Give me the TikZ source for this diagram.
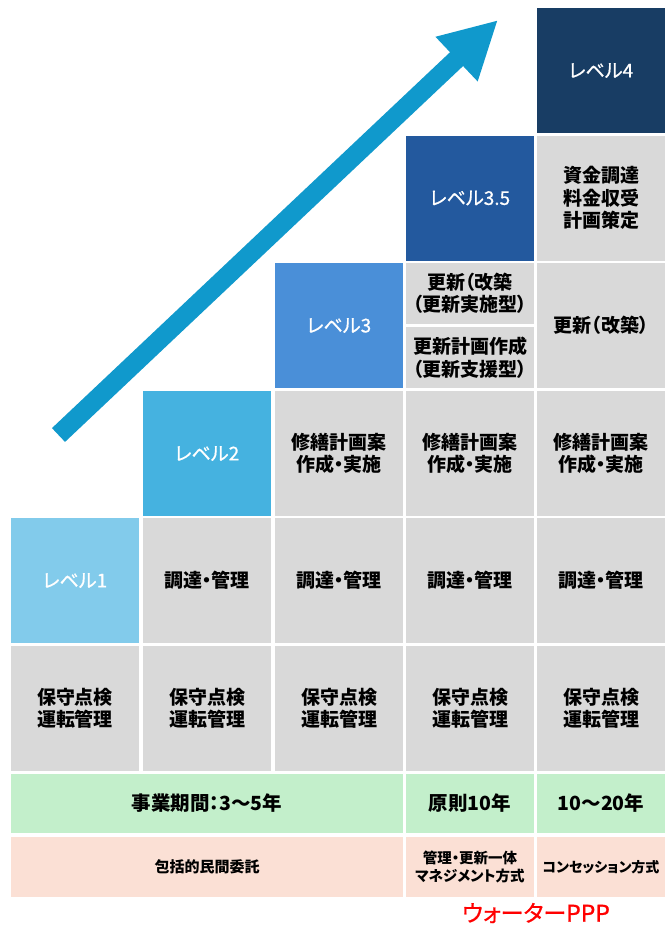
\documentclass[tikz,border=0pt]{standalone}
\usepackage{fontspec}
\setmainfont[RawFeature=+palt]{Noto Sans CJK JP}
\newfontfamily\medio[RawFeature=+palt, FakeBold=0.8]{Noto Sans CJK JP}
\usepackage{xcolor}
\usetikzlibrary{positioning, arrows.meta}
\definecolor{nivel1}{HTML}{82CBEB}
\definecolor{nivel2}{HTML}{45B2E0}
\definecolor{nivel3}{HTML}{4A8FD8}
\definecolor{nivel35}{HTML}{23599E}
\definecolor{nivel4}{HTML}{183D64}
\definecolor{grisfondo}{HTML}{D9D9D9}
\definecolor{verdefondo}{HTML}{C3EFCB}
\definecolor{rosafondo}{HTML}{FBE0D5}
\definecolor{flechaazul}{HTML}{1099CC}
\definecolor{rojo}{HTML}{FF0000}

\begin{document}
\begin{tikzpicture}[x=1pt,y=-1pt,
    celda/.style={inner sep=0pt, minimum width=128pt, minimum height=125pt, align=center,
        font=\bfseries\fontsize{19}{22.5}\selectfont},
    gris/.style={celda, fill=grisfondo},
    nivel/.style={celda, text=white, font=\medio\fontsize{19}{22}\selectfont},
    verde/.style={celda, fill=verdefondo, minimum height=59pt, font=\bfseries\fontsize{19.5}{22}\selectfont},
    rosa/.style={celda, fill=rosafondo, minimum height=60pt, font=\bfseries\fontsize{14.5}{18}\selectfont}]
        % Fondo y limites
        \fill[white] (0,0) rectangle (667,927);
        \useasboundingbox (0,0) rectangle (667,927);
        % Flecha
        \coordinate (flecha-ini) at (58.5,435);
        \coordinate (flecha-fin) at (498,20);
        \draw[flechaazul, line width=19pt, -{Triangle[length=57pt, width=57pt]}] (flecha-ini) -- (flecha-fin);
        % Niveles
        \node[nivel, fill=nivel1] (n1) at (75,580.5) {レベル1};
        \node[nivel, fill=nivel2] (n2) at (207,453.5) {レベル2};
        \node[nivel, fill=nivel3] (n3) at (339,325.5) {レベル3};
        \node[nivel, fill=nivel35] (n35) at (470,198) {レベル3.5};
        \node[nivel, fill=nivel4] (n4) at (601,70.5) {レベル4};
        % Celdas grises por fila
        \foreach \x [count=\i] in {75,207,339,470,601} {
            \node[gris] (hoshu\i) at (\x,708.5) {保守点検\\運転管理};
        }
        \foreach \x [count=\i from 2] in {207,339,470,601} {
            \node[gris] (chotatsu\i) at (\x,580.5) {調達・管理};
        }
        \foreach \x [count=\i from 3] in {339,470,601} {
            \node[gris] (shuzen\i) at (\x,453.5) {修繕計画案\\作成・実施};
        }
        \node[gris, minimum height=61pt] (koshin4a) at (470,293.5) {更新（改築\\（更新実施型）};
        \node[gris, minimum height=61pt] (koshin4b) at (470,357.5) {更新計画作成\\（更新支援型）};
        \node[gris] (koshin5) at (601,325.5) {更新（改築）};
        \node[gris] (shikin5) at (601,198) {資金調達\\料金収受\\計画策定};
        % Periodo del proyecto
        \node[verde, minimum width=392pt] (plazo) at (207,803.5) {事業期間：3～5年};
        \node[verde] (plazo4) at (470,803.5) {原則10年};
        \node[verde] (plazo5) at (601,803.5) {10～20年};
        % Modalidad
        \node[rosa, minimum width=392pt, font=\bfseries\fontsize{15}{18}\selectfont] (modo) at (207,867) {包括的民間委託};
        \node[rosa] (modo4) at (470,867) {管理・更新一体\\マネジメント方式};
        \node[rosa, font=\bfseries\fontsize{14}{18}\selectfont] (modo5) at (601,867) {コンセッション方式};
        % Texto rojo debajo
        \node[text=rojo, inner sep=0pt, font=\medio\fontsize{23}{26}\selectfont] (ppp) at (536,913) {ウォーターPPP};
    \end{tikzpicture}
\end{document}
